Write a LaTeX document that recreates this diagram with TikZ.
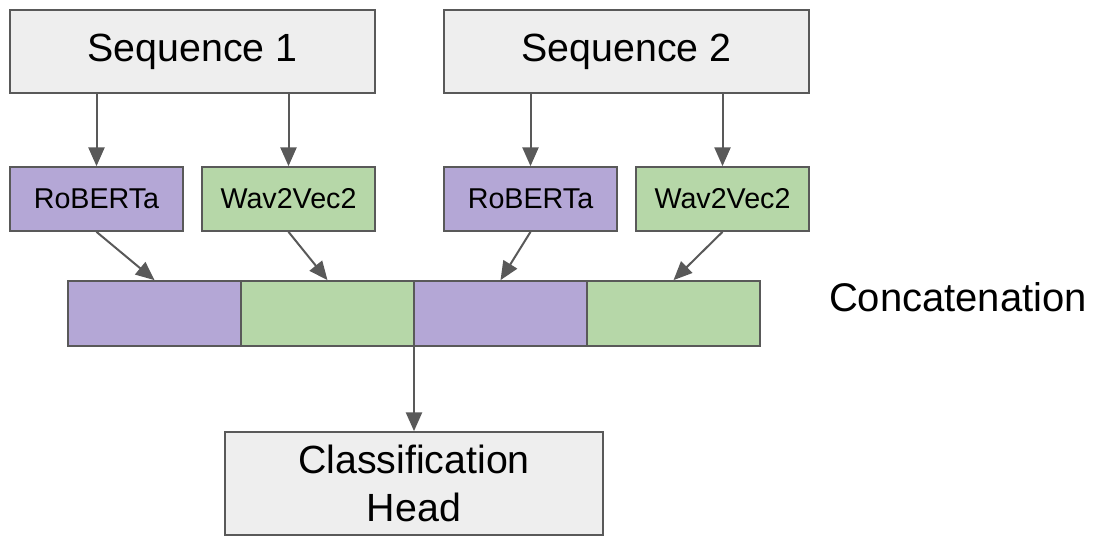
\documentclass[tikz,border=0pt]{standalone}
\usepackage{fontspec}
\setmainfont{Liberation Sans}
\usepackage{tikz}
\usetikzlibrary{shapes, arrows.meta, positioning, calc, matrix}
\definecolor{boxgray}{RGB}{238, 238, 238}
\definecolor{robpurple}{RGB}{180, 167, 214}
\definecolor{wavgreen}{RGB}{182, 215, 168}
\definecolor{linegray}{RGB}{89, 89, 89}
\tikzset{
  inputbox/.style={rectangle, draw=linegray, fill=boxgray, line width=1.3pt, minimum width=273.75pt, minimum height=62.25pt, text centered, font=\fontsize{29.5}{34}\selectfont},
  robbox/.style={rectangle, draw=linegray, fill=robpurple, line width=1.3pt, minimum width=129.75pt, minimum height=48pt, text centered, font=\fontsize{21.5}{24}\selectfont},
  wavbox/.style={rectangle, draw=linegray, fill=wavgreen, line width=1.3pt, minimum width=129.75pt, minimum height=48pt, text centered, font=\fontsize{21.5}{24}\selectfont},
  robcell/.style={rectangle, draw=linegray, fill=robpurple, line width=1.3pt, minimum width=129.75pt, minimum height=48.75pt},
  wavcell/.style={rectangle, draw=linegray, fill=wavgreen, line width=1.3pt, minimum width=129.75pt, minimum height=48.75pt},
  headbox/.style={rectangle, draw=linegray, fill=boxgray, line width=1.3pt, minimum width=283.5pt, minimum height=77.25pt, align=center, font=\fontsize{29.5}{36}\selectfont},
  arr/.style={draw=linegray, line width=1.5pt, -{Triangle[length=14pt, width=12pt]}}
}
\begin{document}
\begin{tikzpicture}[x=0.75pt, y=-0.75pt]
    \useasboundingbox (0,0) rectangle (1094,557);
    % Inputs
    \node[inputbox] (Seq1) at (192.5, 51.5) {Sequence 1};
    \node[inputbox] (Seq2) at (626.5, 51.5) {Sequence 2};

    % Encoders
    \node[robbox] (Rob1) at (96.5, 199) {RoBERTa};
    \node[wavbox] (Wav1) at (288.5, 199) {Wav2Vec2};
    \node[robbox] (Rob2) at (530.5, 199) {RoBERTa};
    \node[wavbox] (Wav2) at (722.5, 199) {Wav2Vec2};

    % Concatenated features
    \matrix[matrix of nodes, nodes in empty cells, ampersand replacement=\&, column sep=-1.3pt, inner sep=0pt] (Concat) at (414, 313.5) {
        |[robcell]| \& |[wavcell]| \& |[robcell]| \& |[wavcell]| \\
    };
    \node[font=\fontsize{30}{34}\selectfont] (ConcatLabel) at (958, 297) {Concatenation};

    \node[headbox] (Head) at (414, 483.5) {Classification\\Head};

    \draw[arr] (Seq1.south -| Rob1) -- (Rob1);
    \draw[arr] (Seq1.south -| Wav1) -- (Wav1);
    \draw[arr] (Seq2.south -| Rob2) -- (Rob2);
    \draw[arr] (Seq2.south -| Wav2) -- (Wav2);
    \draw[arr] (Rob1.south) -- (Concat-1-1.north);
    \draw[arr] (Wav1.south) -- (Concat-1-2.north);
    \draw[arr] (Rob2.south) -- (Concat-1-3.north);
    \draw[arr] (Wav2.south) -- (Concat-1-4.north);
    \draw[arr] (Head.north |- Concat.south) -- (Head.north);
\end{tikzpicture}
\end{document}
